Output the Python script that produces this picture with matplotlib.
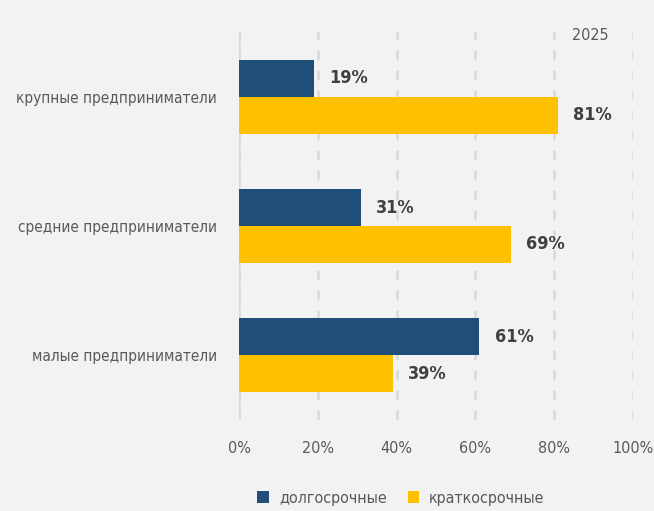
import matplotlib.pyplot as plt
import numpy as np

# data
categories = ["крупные предприниматели", "средние предприниматели", "малые предприниматели"]
long_term = [19, 31, 61]
short_term = [81, 69, 39]
series_names = ["долгосрочные", "краткосрочные"]
year_label = "2025"

BG = "#F2F2F2"
BLUE = "#1F4E79"
YELLOW = "#FFC000"
GREY = "#595959"

# narrow face to get close to the condensed font of the original
plt.rcParams['font.family'] = ['DejaVu Sans']
plt.rcParams['font.stretch'] = 'condensed'

fig = plt.figure(figsize=(6.54, 5.11), dpi=100, facecolor=BG)
ax = fig.add_axes([239 / 654, 91 / 511, 394 / 654, 388 / 511], facecolor=BG)

y = np.arange(len(categories))[::-1]
h = 0.285
b1 = ax.barh(y + h / 2, long_term, height=h, color=BLUE, label=series_names[0])
b2 = ax.barh(y - h / 2, short_term, height=h, color=YELLOW, label=series_names[1])

for bars in (b1, b2):
    ax.bar_label(bars, labels=[f"{v}%" for v in bars.datavalues], padding=11,
                 fontsize=13, fontweight='bold', color="#404040")

ax.set_xlim(0, 100)
ax.set_ylim(-0.5, 2.5)
ax.set_xticks(range(0, 101, 20))
ax.set_xticklabels([f"{t}%" for t in range(0, 101, 20)])
ax.set_yticks(y)
ax.set_yticklabels(categories)
ax.tick_params(axis='x', length=0, pad=15, labelsize=11.5, colors=GREY)
ax.tick_params(axis='y', length=0, pad=16, labelsize=11, colors=GREY)

ax.xaxis.grid(True, linestyle=(0, (4, 4)), color="#D9D9D9", linewidth=1.8)
ax.set_axisbelow(True)
for s in ax.spines.values():
    s.set_visible(False)
ax.axvline(0, color="#D9D9D9", linewidth=1.8, zorder=0.5)

ax.text(0.891, 1 - 3 / 388, year_label, transform=ax.transAxes, ha='center', va='center',
        fontsize=11.5, color=GREY)

fig.legend(handles=[b1, b2], loc='center', bbox_to_anchor=(401 / 654, 13 / 511),
           ncol=2, frameon=False, fontsize=11.5, labelcolor=GREY,
           handlelength=0.75, handleheight=0.75, handletextpad=0.6, columnspacing=1.3)

fig.savefig("out.png", dpi=100, facecolor=BG)
